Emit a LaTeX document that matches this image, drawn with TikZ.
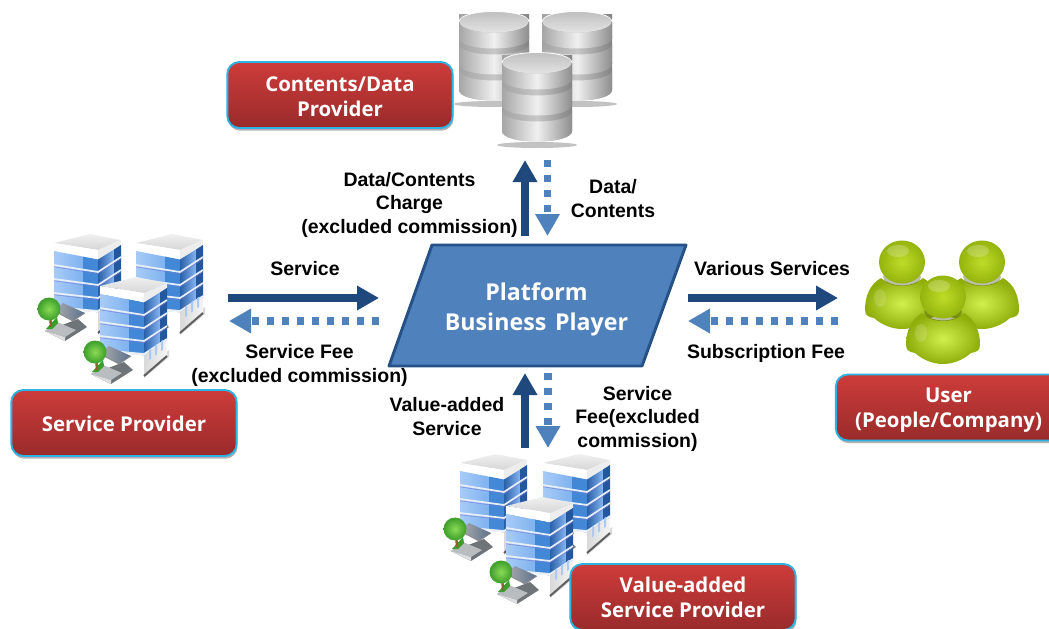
\documentclass[tikz,border=0pt]{standalone}
\usepackage{fontspec}
\setmainfont{Liberation Sans}
\newfontfamily\boxfont[BoldFont={Open Sans Bold}]{Open Sans}
\usetikzlibrary{arrows.meta,shadows,shapes.geometric}
\definecolor{navyA}{HTML}{1F497D}
\definecolor{blueA}{HTML}{4F81BD}
\definecolor{cyanB}{HTML}{2BB3E3}
\definecolor{redT}{HTML}{CD3C3A}
\definecolor{redB}{HTML}{992B2B}
\definecolor{winL}{HTML}{A7CBF6}
\definecolor{winLb}{HTML}{7FB2F0}
\definecolor{winM}{HTML}{4388D6}
\definecolor{winR}{HTML}{86B4F0}
\definecolor{winD}{HTML}{23579E}
\definecolor{bandC}{HTML}{E6EEF8}
\definecolor{stairD}{HTML}{6F7478}
\definecolor{stairL}{HTML}{B9BDC0}
\definecolor{treeL}{HTML}{8ADB55}
\definecolor{treeD}{HTML}{3C9E2A}
\definecolor{dbL}{HTML}{F0F0F0}
\definecolor{dbD}{HTML}{A6A6A6}
\definecolor{dbG}{HTML}{A2A2A2}
\definecolor{perL}{HTML}{D2F04C}
\definecolor{perD}{HTML}{8FAE0C}
\definecolor{perH}{HTML}{BEDC28}
\definecolor{perHD}{HTML}{94B40E}
\tikzset{
  solidarrow/.style={draw=navyA,line width=6pt,-{Triangle[length=16.5pt,width=17.5pt]}},
  dotarrow/.style={draw=blueA,line width=5.6pt,dash pattern=on 5.4pt off 5.85pt,-{Triangle[length=16.5pt,width=17.5pt]}},
  lab/.style={font=\fontsize{14.6pt}{17.6pt}\selectfont\bfseries,align=center,inner sep=0pt,text=black},
  redbox/.style={draw=cyanB,line width=1.4pt,rounded corners=9pt,top color=redT,bottom color=redB,
    minimum width=169pt,minimum height=49.5pt,inner sep=0pt,text=white,align=center,
    font=\boxfont\fontsize{15.3pt}{18.8pt}\selectfont\bfseries,
    drop shadow={shadow xshift=0.6pt,shadow yshift=-2pt,opacity=.3,fill=black}},
  building/.pic={
    \fill[black!30,opacity=.5] (44,92)--(69,71)--(69,64)--(44,84)--cycle;
    % roof
    \shade[top color=gray!12,bottom color=gray!32] (0,0)--(36,-9)--(67,-3)--(44,7)--cycle;
    % parapet
    \fill[white] (0,0)--(44,7)--(44,16.5)--(0,8)--cycle;
    \fill[gray!14] (44,7)--(67,-3)--(67,2)--(44,16.5)--cycle;
    % windows
    \shade[left color=winL,right color=winLb] (0,8)--(29,13.6)--(29,66.6)--(0,64)--cycle;
    \fill[winM] (29,13.6)--(44,16.5)--(44,68)--(29,66.6)--cycle;
    \shade[left color=winD!80!winM,right color=winR] (44,16.5)--(60,6.5)--(60,57.6)--(44,68)--cycle;
    \fill[winD] (60,6.5)--(67,2)--(67,53)--(60,57.6)--cycle;
    % bands
    \foreach \l/\f/\r in {22/29/14,36/42/27,50/55/40,64/68/53}{
      \draw[bandC,line width=1.3pt] (0,\l)--(44,\f)--(67,\r);
      \draw[gray!50!blue!70,line width=.3pt] (0,\l+1.8)--(44,\f+1.8)--(67,\r+1.8);
    }
    % ground floor
    \fill[white] (0,65)--(44,69.5)--(44,90)--(0,78)--cycle;
    \shade[left color=gray!30,right color=gray!8] (44,69.5)--(67,54.5)--(67,70)--(44,90)--cycle;
    \foreach \x in {49,55,61}{
      \fill[winR!70!white] (\x,{78-(\x-44)*.75})--(\x+2,{78-(\x+2-44)*.75})--(\x+2,{68-(\x+2-44)*.75})--(\x,{68-(\x-44)*.75})--cycle;
    }
    \draw[gray!75!black,line width=1.5pt] (44,90)--(67,70);
    % stairs
    \fill[stairD] (-9,88)--(11,98)--(33,84)--(24,76)--(3,84)--cycle;
    \fill[stairL] (-9,88)--(3,79)--(22,87)--(11,94)--cycle;
    \fill[gray!25] (-9,88)--(11,94)--(11,98)--cycle;
    \shade[left color=gray!65,right color=winD!40!gray] (0,68)--(19,78)--(31,70)--(9,60)--cycle;
    \draw[gray!90,line width=.6pt] (0,68)--(19,78)--(31,70);
    % tree
    \fill[treeD] (-8,86)--(3,74)--(4,80)--(-2,86)--cycle;
    \draw[brown!75!black,line width=1.8pt] (-4,70)--(-3,84);
    \shade[inner color=treeL,outer color=treeD] (-5,66) circle[radius=8.6pt];
  },
  cylbody/.style={left color=dbD,right color=dbD!85!black,middle color=dbL},
  dbstack/.pic={
    \fill[black!40,opacity=.6] (0,92) ellipse[x radius=40,y radius=3];
    \foreach \t/\b in {58/78,32/52,10/26}{
      \shade[left color=dbG,right color=dbG!80!black,middle color=dbG!60!white] (-35,\t-8)--(-35,\b)..controls(-35,\b+14)and(35,\b+14)..(35,\b)--(35,\t-8)--cycle;
      \shade[cylbody] (-35,\t)--(-35,\b)..controls(-35,\b+14)and(35,\b+14)..(35,\b)--(35,\t)..controls(35,\t+14)and(-35,\t+14)..(-35,\t)--cycle;
    }
    \shade[top color=gray!50,bottom color=gray!22] (0,10) ellipse[x radius=34.5,y radius=10.5];
    \draw[white,line width=.6pt] (-35,10)..controls(-35,-4)and(35,-4)..(35,10);
  },
  person/.pic={
    \shade[inner color=perL,outer color=perD]
      (-21,16)..controls(-32,22)and(-37,34)..(-37,48)..controls(-37,54)and(-33,55)..(-28,56)
      ..controls(-20,63)and(-10,67)..(0,67)..controls(10,67)and(20,63)..(28,56)
      ..controls(33,55)and(37,54)..(37,48)..controls(37,34)and(32,22)..(21,16)
      ..controls(10,26)and(-10,26)..(-21,16)--cycle;
    \fill[black!60!perD,opacity=.35] (0,15) ellipse[x radius=19,y radius=9];
    \shade[inner color=perH,outer color=perHD] (0,0) ellipse[x radius=23,y radius=21.5];
    \fill[white,opacity=.22] (-4,-11) ellipse[x radius=11,y radius=6];
    \fill[white,opacity=.15] (-22,36) ellipse[x radius=6,y radius=9];
  },
}
\begin{document}
\begin{tikzpicture}[x=0.75pt,y=-0.75pt]
\useasboundingbox (0,0) rectangle (1049,628);
\clip (0,0) rectangle (1049,628);
% database stack
\pic at (494,12) {dbstack};
\pic at (577,12) {dbstack};
\pic at (537,53) {dbstack};
% buildings, service provider
\pic at (136,243) {building};
\pic at (54,243) {building};
\pic at (100,286) {building};
% buildings, value-added
\pic at (543,463) {building};
\pic at (460,463) {building};
\pic at (506,506) {building};
% users
\pic at (902,262) {person};
\pic at (982,262) {person};
\pic at (943,297) {person};
% boxes
\node[redbox] (contents) at (340,95) {\rule{0pt}{13.1pt}Contents/Data\\Provider};
\node[redbox] (sp) at (124,423) {\rule{0pt}{13.1pt}Service Provider};
\node[redbox] (user) at (948.5,407.5) {\rule{0pt}{15pt}User\\(People/Company)};
\node[redbox] (vasp) at (683,597) {Value-added\\Service Provider};
% platform
\draw[fill=blueA,draw=navyA!85!blueA,line width=2.2pt,line join=round] (432,245)--(686,245)--(642,366)--(389,366)--cycle;
\node[inner sep=0pt,align=center,text=white,font=\boxfont\fontsize{17.4pt}{22.4pt}\selectfont\bfseries] (platform) at (536.5,309) {Platform\\Business\hspace{2pt} Player};
% connector ends
\coordinate (dbA) at (525,236); \coordinate (dbB) at (525,160);
\coordinate (dbC) at (547.5,160); \coordinate (dbD) at (547.5,236);
\coordinate (svA) at (228,298); \coordinate (svB) at (379,298);
\coordinate (svC) at (379,321); \coordinate (svD) at (229,321);
\coordinate (usA) at (688,298); \coordinate (usB) at (838,298);
\coordinate (usC) at (838,321); \coordinate (usD) at (688,321);
\coordinate (vaA) at (525,448); \coordinate (vaB) at (525,373);
\coordinate (vaC) at (548,373); \coordinate (vaD) at (548,448);
\draw[solidarrow] (dbA)--(dbB);
\draw[dotarrow] (dbC)--(dbD);
\draw[solidarrow] (svA)--(svB);
\draw[dotarrow] (svC)--(svD);
\draw[solidarrow] (usA)--(usB);
\draw[dotarrow] (usC)--(usD);
\draw[solidarrow] (vaA)--(vaB);
\draw[dotarrow] (vaC)--(vaD);
% labels
\node[lab] (l1) at (409.5,204.5) {Data/Contents\\Charge\\(excluded commission)};
\node[lab] (l2) at (613,198.5) {Data/\\Contents};
\node[lab] (l3) at (305,268.5) {Service};
\node[lab] (l4) at (299.5,365.5) {Service Fee\\(excluded commission)};
\node[lab] (l5) at (772,268.5) {Various Services};
\node[lab] (l6) at (766,353.5) {Subscription Fee};
\node[lab] (l7) at (447,416.5) {Value-added\\Service};
\node[lab] (l8) at (637.5,418.5) {Service\\Fee(excluded\\commission)};
\end{tikzpicture}
\end{document}
